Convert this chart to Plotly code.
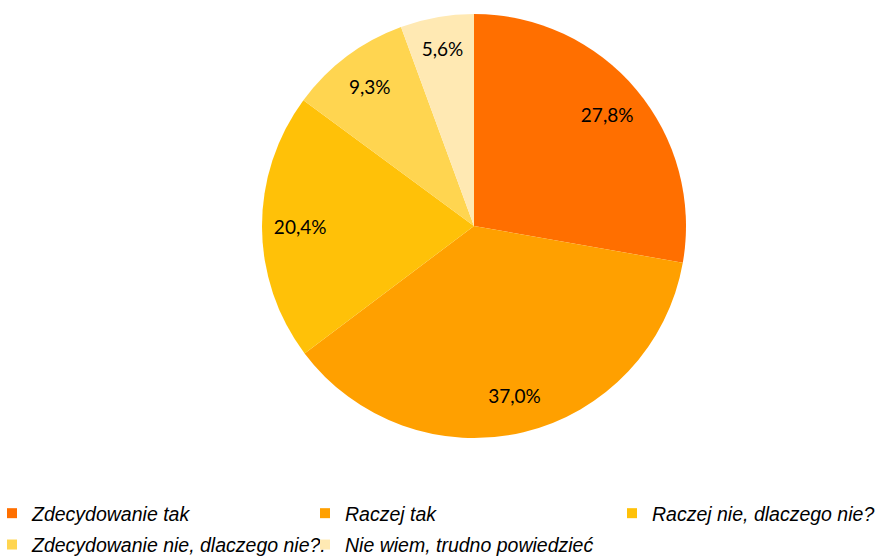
import plotly.graph_objects as go

# Survey answers and their shares (%)
labels = [
    "Zdecydowanie tak",
    "Raczej tak",
    "Raczej nie, dlaczego nie?",
    "Zdecydowanie nie, dlaczego nie?.",
    "Nie wiem, trudno powiedzieć",
]
values = [27.8, 37.0, 20.4, 9.3, 5.6]
value_text = [f"{v:.1f}%".replace(".", ",") for v in values]
colors = ["#FF6F00", "#FFA000", "#FFC108", "#FFD550", "#FFE9B3"]

# Legend layout: which column each answer goes into
legend_column = [0, 1, 2, 0, 1]

W, H = 875, 558
cx, cy, r = 474, 226, 212
pie_domain = dict(
    x=[(cx - r) / W, (cx + r) / W],
    y=[1 - (cy + r) / H, 1 - (cy - r) / H],
)

fig = go.Figure()

# Solid pie
fig.add_trace(
    go.Pie(
        labels=labels,
        values=values,
        textinfo="none",
        marker=dict(colors=colors, line=dict(width=0)),
        sort=False,
        direction="clockwise",
        rotation=0,
        hoverinfo="label+percent",
        showlegend=False,
        domain=pie_domain,
    )
)

# Transparent ring on top that carries the value labels out toward the rim
fig.add_trace(
    go.Pie(
        labels=labels,
        values=values,
        text=value_text,
        texttemplate="%{text}",
        textposition="inside",
        insidetextorientation="horizontal",
        textfont=dict(family="Lato", size=19, color="#000000"),
        marker=dict(colors=["rgba(0,0,0,0)"] * len(values), line=dict(width=0)),
        hole=0.64,
        sort=False,
        direction="clockwise",
        rotation=0,
        showlegend=False,
        hoverinfo="skip",
        domain=pie_domain,
    )
)

# Legend keys, split over three column legends
legend_ids = ["legend", "legend2", "legend3"]
for lab, col, c in zip(labels, legend_column, colors):
    fig.add_trace(
        go.Scatter(
            x=[None],
            y=[None],
            mode="markers",
            name=lab,
            legendgroup=lab,
            legend=legend_ids[col],
            marker=dict(symbol="square", size=10, color=c, line=dict(width=0)),
            hoverinfo="skip",
        )
    )

legend_font = dict(family="Liberation Sans", size=19.5, color="#000000", style="italic")
legend_x_px = [7, 320, 627]
legend_common = dict(
    orientation="v",
    xanchor="left",
    y=1 - 494 / H,
    yanchor="top",
    indentation=-15,
    itemwidth=30,
    traceorder="grouped",
    tracegroupgap=3,
    bgcolor="rgba(0,0,0,0)",
    font=legend_font,
)

fig.update_layout(
    width=W,
    height=H,
    margin=dict(l=0, r=0, t=0, b=0, autoexpand=False),
    paper_bgcolor="white",
    plot_bgcolor="white",
    xaxis=dict(visible=False),
    yaxis=dict(visible=False),
    showlegend=True,
    legend=dict(x=legend_x_px[0] / W, **legend_common),
    legend2=dict(x=legend_x_px[1] / W, **legend_common),
    legend3=dict(x=legend_x_px[2] / W, **legend_common),
)

fig.write_html("out.html")
